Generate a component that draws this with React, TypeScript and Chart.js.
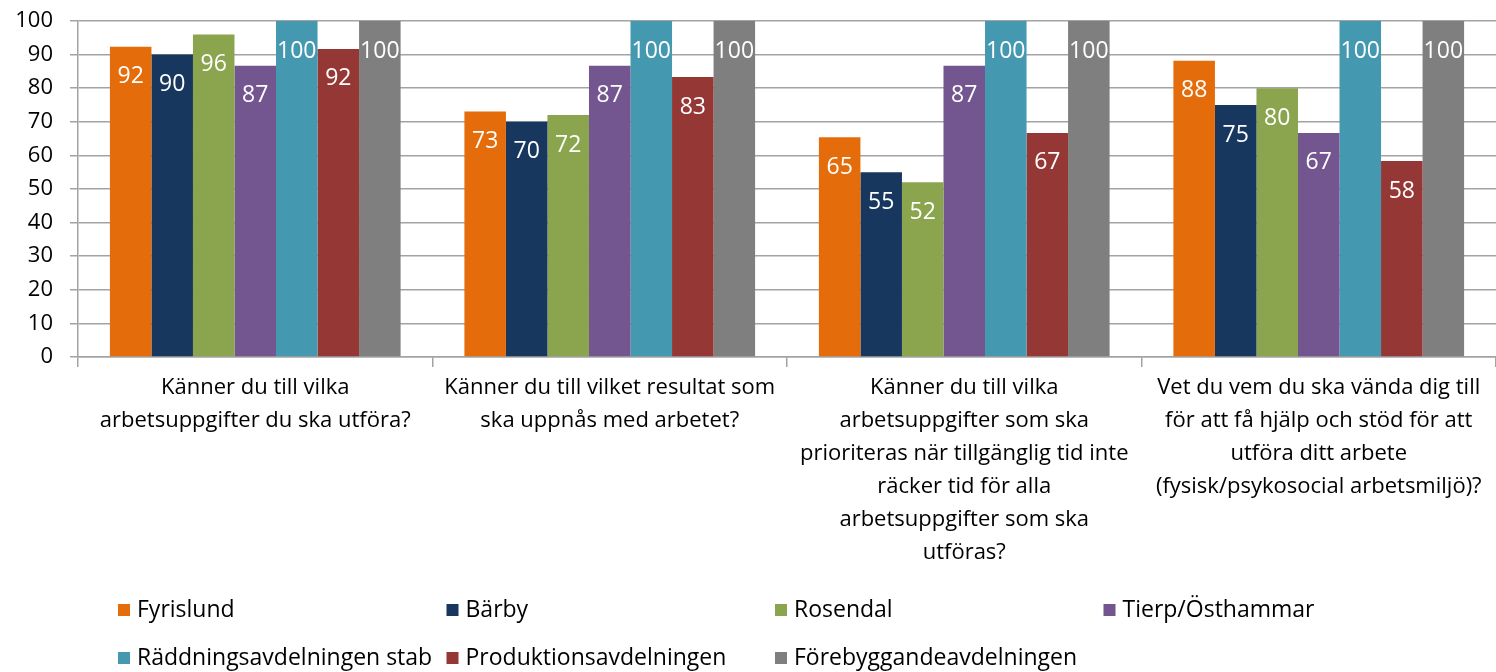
import React, { useEffect, useRef } from "react";
import { Chart, registerables } from "chart.js";
Chart.register(...registerables);

const categories: string[][] = [
  ["Känner du till vilka", "arbetsuppgifter du ska utföra?"],
  ["Känner du till vilket resultat som", "ska uppnås med arbetet?"],
  [
    "Känner du till vilka",
    "arbetsuppgifter som ska",
    "prioriteras när tillgänglig tid inte",
    "räcker tid för alla",
    "arbetsuppgifter som ska",
    "utföras?",
  ],
  [
    "Vet du vem du ska vända dig till",
    "för att få hjälp och stöd för att",
    "utföra ditt arbete",
    "(fysisk/psykosocial arbetsmiljö)?",
  ],
];

const seriesNames = [
  "Fyrislund",
  "Bärby",
  "Rosendal",
  "Tierp/Östhammar",
  "Räddningsavdelningen stab",
  "Produktionsavdelningen",
  "Förebyggandeavdelningen",
];

const fyrislund = [92.3, 73.1, 65.4, 88.2];
const barby = [90, 70, 55, 75];
const rosendal = [96, 72, 52, 80];
const tierp = [86.7, 86.7, 86.7, 66.7];
const raddning = [100, 100, 100, 100];
const produktion = [91.7, 83.3, 66.7, 58.3];
const forebygg = [100, 100, 100, 100];

const seriesValues = [fyrislund, barby, rosendal, tierp, raddning, produktion, forebygg];
const seriesColors = ["#E46C0A", "#17375E", "#8BA54E", "#735690", "#4499B1", "#953735", "#7F7F7F"];

const yTicks = [0, 10, 20, 30, 40, 50, 60, 70, 80, 90, 100];

const FONT = "'Open Sans', Lato, sans-serif";
const GRID = "#A3A3A3";

const dataLabelPlugin = {
  id: "dataLabels",
  afterDatasetsDraw(chart: any) {
    const ctx = chart.ctx;
    ctx.save();
    ctx.font = `23px ${FONT}`;
    ctx.fillStyle = "#FFFFFF";
    ctx.textAlign = "center";
    ctx.textBaseline = "middle";
    chart.data.datasets.forEach((ds: any, di: number) => {
      const meta = chart.getDatasetMeta(di);
      meta.data.forEach((bar: any, i: number) => {
        const v = ds.data[i];
        ctx.fillText(String(Math.round(v)), bar.x, bar.y + 30);
      });
    });
    ctx.restore();
  },
};

const legendPlugin = {
  id: "customLegend",
  afterDraw(chart: any) {
    const ctx = chart.ctx;
    ctx.save();
    ctx.font = `23px ${FONT}`;
    ctx.textAlign = "left";
    ctx.textBaseline = "middle";
    chart.data.datasets.forEach((ds: any, i: number) => {
      const col = i % 4;
      const row = Math.floor(i / 4);
      const x = 118 + col * 328.5;
      const y = 610 + row * 48;
      ctx.fillStyle = ds.backgroundColor;
      ctx.fillRect(x, y - 6, 12, 12);
      ctx.fillStyle = "#000000";
      ctx.fillText(ds.label, x + 19, y);
    });
    ctx.restore();
  },
};

export default function App() {
  const ref = useRef<HTMLCanvasElement | null>(null);

  useEffect(() => {
    document.body.style.margin = "0";
    if (!ref.current) return;
    const chart = new Chart(ref.current, {
      type: "bar",
      data: {
        labels: categories as any,
        datasets: seriesNames.map((name, i) => ({
          label: name,
          data: seriesValues[i],
          backgroundColor: seriesColors[i],
          borderWidth: 0,
          categoryPercentage: 0.82,
          barPercentage: 1,
        })),
      },
      options: {
        animation: false,
        responsive: false,
        maintainAspectRatio: false,
        layout: { padding: { top: 21, left: 0, right: 0, bottom: 0 } },
        plugins: {
          legend: { display: false },
          tooltip: { enabled: false },
          title: { display: false },
        },
        scales: {
          x: {
            offset: true,
            grid: {
              offset: true,
              drawOnChartArea: false,
              drawTicks: true,
              tickLength: 10,
              color: GRID,
              lineWidth: 1.5,
            },
            border: { display: true, color: GRID, width: 1.5 },
            ticks: {
              autoSkip: false,
              maxRotation: 0,
              minRotation: 0,
              padding: 4,
              color: "#000000",
              font: { family: FONT, size: 22, lineHeight: 1.5 },
            },
            afterFit(scale: any) {
              scale.height = 672 - 357;
              scale.paddingLeft = 0;
              scale.paddingRight = 0;
            },
          },
          y: {
            min: 0,
            max: 100,
            afterBuildTicks(scale: any) {
              scale.ticks = yTicks.map((v) => ({ value: v }));
            },
            grid: {
              color: GRID,
              lineWidth: 1.5,
              drawTicks: true,
              tickLength: 8,
            },
            border: { display: true, color: GRID, width: 1.5 },
            ticks: {
              padding: 17,
              color: "#000000",
              font: { family: FONT, size: 22 },
            },
            afterFit(scale: any) {
              scale.width = 78;
              scale.paddingTop = 0;
              scale.paddingBottom = 0;
            },
          },
        },
      },
      plugins: [dataLabelPlugin, legendPlugin],
    });
    return () => chart.destroy();
  }, []);

  return (
    <div style={{ width: 1496, height: 672 }}>
      <canvas ref={ref} width={1496} height={672} style={{ display: "block", width: 1496, height: 672 }} />
    </div>
  );
}
